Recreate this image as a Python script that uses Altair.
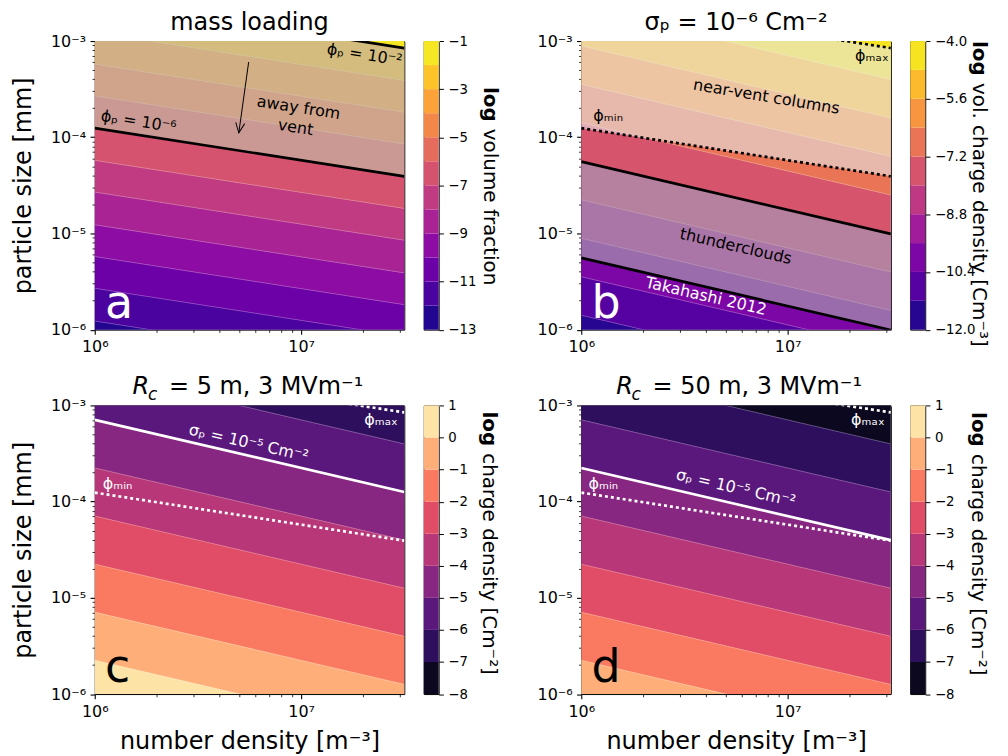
import altair as alt
import pandas as pd

FONT = "DejaVu Sans"

# ---------------- values ----------------
X_LIM = [1e6, 3.1623e7]          # number density [m^-3]
Y_LIM = [1e-6, 1e-3]             # particle size [mm]
x_ticks = [1e6, 2e6, 3e6, 4e6, 5e6, 6e6, 7e6, 8e6, 9e6, 1e7, 2e7, 3e7]
y_ticks = [1e-6, 2e-6, 3e-6, 4e-6, 5e-6, 6e-6, 7e-6, 8e-6, 9e-6,
           1e-5, 2e-5, 3e-5, 4e-5, 5e-5, 6e-5, 7e-5, 8e-5, 9e-5,
           1e-4, 2e-4, 3e-4, 4e-4, 5e-4, 6e-4, 7e-4, 8e-4, 9e-4, 1e-3]

# contour levels; log10(particle size) where each level line meets the left / right edge
a_levels = [-13, -12, -11, -10, -9, -8, -7, -6, -5, -4, -3, -2, -1]
a_left = [-6.24, -5.91, -5.57, -5.24, -4.91, -4.57, -4.24, -3.91, -3.57, -3.24, -2.91, -2.57, -2.24]
a_right = [-6.74, -6.41, -6.07, -5.74, -5.41, -5.07, -4.74, -4.41, -4.07, -3.74, -3.41, -3.07, -2.74]
a_colors = ["#230690", "#4b03a0", "#6d01a8", "#8c0ca4", "#a92395", "#c13b82",
            "#d5536f", "#e56c5c", "#f38749", "#fba338", "#fcc429", "#f5e723"]
a_ticks = [-13, -11, -9, -7, -5, -3, -1]

b_levels = [-12.0, -11.2, -10.4, -9.6, -8.8, -8.0, -7.2, -6.4, -5.6, -4.8, -4.0]
b_left = [-6.25, -5.85, -5.45, -5.05, -4.65, -4.25, -3.85, -3.45, -3.05, -2.65, -2.25]
b_right = [-7.0, -6.6, -6.2, -5.8, -5.4, -5.0, -4.6, -4.2, -3.8, -3.4, -3.0]
b_colors = ["#270692", "#5602a2", "#7c06a6", "#a01c9a", "#be3884",
            "#d6556d", "#e97456", "#f79540", "#fcba2d", "#f6e423"]
b_ticks = [-12.0, -10.4, -8.8, -7.2, -5.6, -4.0]

cd_levels = [-8, -7, -6, -5, -4, -3, -2, -1, 0, 1]
c_left = [-1.65, -2.15, -2.65, -3.15, -3.65, -4.15, -4.65, -5.15, -5.65, -6.15]
c_right = [-2.40, -2.90, -3.40, -3.90, -4.40, -4.90, -5.40, -5.90, -6.40, -6.90]
d_left = [-2.15, -2.65, -3.15, -3.65, -4.15, -4.65, -5.15, -5.65, -6.15, -6.65]
d_right = [-2.90, -3.40, -3.90, -4.40, -4.90, -5.40, -5.90, -6.40, -6.90, -7.40]
cd_colors = ["#0b0820", "#2e0f5d", "#5b187c", "#882781", "#b73779",
             "#e14d67", "#f97a60", "#feaf79", "#fde3a6"]
cd_ticks = [-8, -7, -6, -5, -4, -3, -2, -1, 0, 1]

# overlay lines: log10(particle size) at left / right edge
phi_min_line = [-3.906, -4.406]   # phi_p = 1e-6
phi_max_line = [-2.573, -3.073]   # phi_p = 1e-2
rho_hi_line = [-4.254, -5.004]    # thunderclouds, upper
rho_lo_line = [-5.254, -6.004]    # thunderclouds, lower
c_sigma_line = [-3.15, -3.90]
d_sigma_line = [-3.65, -4.40]

# annotations (number density, particle size, text)
a_phi2 = [(2.03e7, 7.16e-4, "ϕₚ = 10⁻²")]
a_phi6 = [(1.632e6, 1.449e-4, "ϕₚ = 10⁻⁶")]
a_away = [(9.72e6, 2.02e-4, "away from\nvent")]
a_arrow = [(5.57e6, 6.05e-4), (4.99e6, 1.11e-4)]
b_phimax = [(2.56e7, 7.0e-4, "ϕₘₐₓ")]
b_phimin = [(1.35e6, 1.65e-4, "ϕₘᵢₙ")]
b_vent = [(7.89e6, 2.63e-4, "near-vent columns")]
b_thunder = [(5.61e6, 7.33e-6, "thunderclouds")]
b_taka = [(4.02e6, 2.22e-6, "Takahashi 2012")]
c_sigma = [(5.57e6, 4.06e-4, "σₚ = 10⁻⁵ Cm⁻²")]
c_phi = [(1.29e6, 1.54e-4, "ϕₘᵢₙ"), (2.44e7, 7.0e-4, "ϕₘₐₓ")]
d_sigma = [(5.61e6, 1.38e-4, "σₚ = 10⁻⁵ Cm⁻²")]
d_phi = [(1.28e6, 1.54e-4, "ϕₘᵢₙ"), (2.45e7, 7.0e-4, "ϕₘₐₓ")]
letter_pos = (1.12e6, 1.33e-6)

# ---------------- layout constants ----------------
PW, PH = 310.5, 289.5
CBW = 15
ONE = pd.DataFrame({"k": [0]})

MAJ = "abs(log(datum.value)/LN10 - round(log(datum.value)/LN10)) < 0.001"
E = "round(log(datum.value)/LN10)"
X_LABELS = f"{MAJ} ? ({E} == 6 ? '10⁶' : '10⁷') : ''"
Y_LABELS = (f"{MAJ} ? ({E} == -3 ? '10⁻³' : {E} == -4 ? '10⁻⁴' : "
            f"{E} == -5 ? '10⁻⁵' : '10⁻⁶') : ''")
TICK_SIZE = {"condition": {"test": MAJ, "value": 4.7}, "value": 2.7}
TICK_WIDTH = {"condition": {"test": MAJ, "value": 1.1}, "value": 0.8}


def xenc(title=None):
    kw = dict(values=x_ticks, labelExpr=X_LABELS, tickSize=TICK_SIZE, tickWidth=TICK_WIDTH,
              labelFlush=False, labelOverlap=False, labelPadding=4.5, title=title)
    if title:
        kw.update(titleY=54.5, titleBaseline="alphabetic")
    return alt.X("n:Q", scale=alt.Scale(type="log", domain=X_LIM, nice=False), axis=alt.Axis(**kw))


def yenc(title=None):
    kw = dict(values=y_ticks, labelExpr=Y_LABELS, tickSize=TICK_SIZE, tickWidth=TICK_WIDTH,
              labelFlush=False, labelOverlap=False, labelPadding=4.5, title=title)
    if title:
        kw.update(titleX=-64.5, titleBaseline="alphabetic", titleAngle=270)
    return alt.Y("d:Q", scale=alt.Scale(type="log", domain=Y_LIM, nice=False),
                 axis=alt.Axis(**kw), stack=None)


def label_mark(text, x, y, size, color="black", style="normal", weight="normal",
               angle=0, align="center", baseline="alphabetic"):
    return alt.Chart(ONE).mark_text(
        text=text, font=FONT, fontSize=size, color=color, fontStyle=style,
        fontWeight=weight, angle=angle, align=align, baseline=baseline
    ).encode(x=alt.value(x), y=alt.value(y))


def band_frame(left, right, tag):
    rows = []
    for i in range(len(left) - 1):
        key = f"{tag}{i:02d}"
        rows.append({"band": key, "n": X_LIM[0], "d": 10 ** left[i], "d2": 10 ** left[i + 1]})
        rows.append({"band": key, "n": X_LIM[1], "d": 10 ** right[i], "d2": 10 ** right[i + 1]})
    return pd.DataFrame(rows)


def edge_lines(pairs):
    rows = []
    for k, (l, r) in enumerate(pairs):
        rows.append({"id": k, "n": X_LIM[0], "d": 10 ** l})
        rows.append({"id": k, "n": X_LIM[1], "d": 10 ** r})
    return pd.DataFrame(rows)


def panel(tag, left, right, colors, washes, solid, dotted, line_color, notes,
          letter, letter_color, titles, xtitle=None, ytitle=None, extra=None):
    X, Y = xenc(xtitle), yenc(ytitle)
    bands = band_frame(left, right, tag)
    keys = sorted(bands["band"].unique())
    layers = [alt.Chart(bands).mark_area(clip=True, orient="vertical", strokeWidth=0.6).encode(
        x=X, y=Y, y2="d2:Q",
        color=alt.Color("band:N", scale=alt.Scale(domain=keys, range=colors), legend=None),
        stroke=alt.Stroke("band:N", scale=alt.Scale(domain=keys, range=colors), legend=None))]
    layers.append(alt.Chart(edge_lines(list(zip(left, right)))).mark_line(
        clip=True, color="white", opacity=0.35, strokeWidth=0.7).encode(x=X, y=Y, detail="id:N"))
    for lo, hi, fill, op in washes:
        df = pd.DataFrame({"n": X_LIM, "d": [10 ** lo[0], 10 ** lo[1]],
                           "d2": [10 ** hi[0], 10 ** hi[1]]})
        layers.append(alt.Chart(df).mark_area(clip=True, orient="vertical", color=fill,
                                              opacity=op).encode(x=X, y=Y, y2="d2:Q"))
    if solid:
        layers.append(alt.Chart(edge_lines(solid)).mark_line(
            clip=True, color=line_color, strokeWidth=2.7).encode(x=X, y=Y, detail="id:N"))
    if dotted:
        layers.append(alt.Chart(edge_lines(dotted)).mark_line(
            clip=True, color=line_color, strokeWidth=2.7, strokeDash=[3, 3],
            strokeCap="butt").encode(x=X, y=Y, detail="id:N"))
    if extra:
        layers += extra(X, Y)
    for rows, size, color, angle in notes:
        df = pd.DataFrame(rows, columns=["n", "d", "t"])
        layers.append(alt.Chart(df).mark_text(
            font=FONT, fontSize=size, color=color, angle=angle, align="center",
            baseline="middle", lineBreak="\n", lineHeight=20).encode(x=X, y=Y, text="t:N"))
    ldf = pd.DataFrame({"n": [letter_pos[0]], "d": [letter_pos[1]], "t": [letter]})
    layers.append(alt.Chart(ldf).mark_text(
        font=FONT, fontSize=46, color=letter_color, align="left",
        baseline="alphabetic").encode(x=X, y=Y, text="t:N"))
    layers += titles
    return alt.layer(*layers).resolve_scale(color="independent", stroke="independent").properties(
        width=PW, height=PH, view=alt.ViewBackground(stroke="black", strokeWidth=1))


def colorbar(levels, colors, ticks, fmt, title_rest, tx, ty):
    df = pd.DataFrame({"lo": levels[:-1], "hi": levels[1:], "c": colors})
    Y = alt.Y("lo:Q", scale=alt.Scale(domain=[levels[0], levels[-1]], nice=False, zero=False),
              axis=alt.Axis(orient="right", values=ticks, format=fmt, title=None, tickSize=4.7,
                            tickWidth=1, labelFontSize=13.3, labelPadding=4.5,
                            labelFlush=False, labelOverlap=False))
    rect = alt.Chart(df).mark_rect().encode(
        x=alt.value(0), x2=alt.value(CBW), y=Y, y2="hi:Q", color=alt.Color("c:N", scale=None))
    t1 = label_mark("log", tx, ty, 20, weight="bold", angle=90, align="left", baseline="middle")
    t2 = label_mark(title_rest, tx, ty + 42, 20, angle=90, align="left", baseline="middle")
    return alt.layer(rect, t1, t2).properties(
        width=CBW, height=PH, view=alt.ViewBackground(stroke="black", strokeWidth=1))


def spacer(w, top=0):
    ch = alt.Chart(ONE).mark_rect(color="white").encode(
        x=alt.value(0), x2=alt.value(1), y=alt.value(top), y2=alt.value(top + 1))
    return ch.properties(width=w, height=PH, view=alt.ViewBackground(stroke="transparent"))


def arrow(X, Y):
    adf = pd.DataFrame(a_arrow, columns=["n", "d"])
    line = alt.Chart(adf).mark_line(color="black", strokeWidth=1).encode(x=X, y=Y)
    head = alt.Chart(adf.iloc[[1]]).mark_point(
        shape="M-0.45,-1L0,0L0.45,-1", filled=False, color="black", strokeWidth=1,
        size=400, angle=8, opacity=1).encode(x=X, y=Y)
    return [line, head]


panel_a = panel(
    "a", a_left, a_right, a_colors,
    washes=[(phi_min_line, phi_max_line, "#b8b8b8", 0.6)],
    solid=[phi_min_line, phi_max_line], dotted=None, line_color="black",
    notes=[(a_phi2, 16, "black", 8.8), (a_phi6, 16, "black", 8.8), (a_away, 16, "black", 8.8)],
    letter="a", letter_color="white",
    titles=[label_mark("mass loading", PW / 2, -11, 24)],
    ytitle="particle size [mm]", extra=arrow)

panel_b = panel(
    "b", b_left, b_right, b_colors,
    washes=[(phi_min_line, phi_max_line, "#e6e6e6", 0.6),
            (rho_lo_line, rho_hi_line, "#b1b1b1", 0.6)],
    solid=[rho_hi_line, rho_lo_line], dotted=[phi_min_line, phi_max_line], line_color="black",
    notes=[(b_phimax, 16, "black", 0), (b_phimin, 16, "black", 0), (b_vent, 16, "black", 9.5),
           (b_thunder, 16, "black", 13), (b_taka, 16, "white", 13)],
    letter="b", letter_color="white",
    titles=[label_mark("σₚ = 10⁻⁶ Cm⁻²", PW / 2, -11, 24)])

panel_c = panel(
    "c", c_left, c_right, cd_colors, washes=[],
    solid=[c_sigma_line], dotted=[phi_min_line, phi_max_line], line_color="white",
    notes=[(c_sigma, 16, "white", 13), (c_phi, 16, "white", 0)],
    letter="c", letter_color="black",
    titles=[label_mark("R", 38, -11, 24, style="italic", align="left"),
            label_mark("c", 53.5, -5, 17, style="italic", align="left"),
            label_mark("= 5 m, 3 MVm⁻¹", 74.5, -11, 24, align="left")],
    xtitle="number density [m⁻³]", ytitle="particle size [mm]")

panel_d = panel(
    "d", d_left, d_right, cd_colors, washes=[],
    solid=[d_sigma_line], dotted=[phi_min_line, phi_max_line], line_color="white",
    notes=[(d_sigma, 16, "white", 13), (d_phi, 16, "white", 0)],
    letter="d", letter_color="black",
    titles=[label_mark("R", 35, -11, 24, style="italic", align="left"),
            label_mark("c", 50.5, -5, 17, style="italic", align="left"),
            label_mark("= 50 m, 3 MVm⁻¹", 71.5, -11, 24, align="left")],
    xtitle="number density [m⁻³]")

cbar_a = colorbar(a_levels, a_colors, a_ticks, "d", "volume fraction", 66, 46)
cbar_b = colorbar(b_levels, b_colors, b_ticks, ".1f", "vol. charge density [Cm⁻³]", 69, 0)
cbar_c = colorbar(cd_levels, cd_colors, cd_ticks, "d", "charge density [Cm⁻²]", 65, 6)
cbar_d = colorbar(cd_levels, cd_colors, cd_ticks, "d", "charge density [Cm⁻²]", 68, 6.7)

row1 = [spacer(85.5, top=-31), panel_a, spacer(18.5), cbar_a, spacer(142.5), panel_b,
        spacer(18.5), cbar_b, spacer(74)]
row2 = [spacer(85.5), panel_c, spacer(18.5), cbar_c, spacer(142.5), panel_d,
        spacer(18.5), cbar_d, spacer(74)]

chart = alt.concat(
    *row1, *row2, columns=9, spacing={"row": 75.5, "column": 0}, bounds="flush", align="each"
).resolve_scale(color="independent", stroke="independent").properties(padding=0).configure(
    font=FONT).configure_view(stroke="transparent").configure_axis(
    labelFont=FONT, titleFont=FONT, labelFontSize=16, titleFontSize=24, titleFontWeight="normal",
    labelColor="black", titleColor="black", tickColor="black", domain=False, grid=False)

chart.save("out.html", embed_options={"renderer": "svg", "actions": False})
